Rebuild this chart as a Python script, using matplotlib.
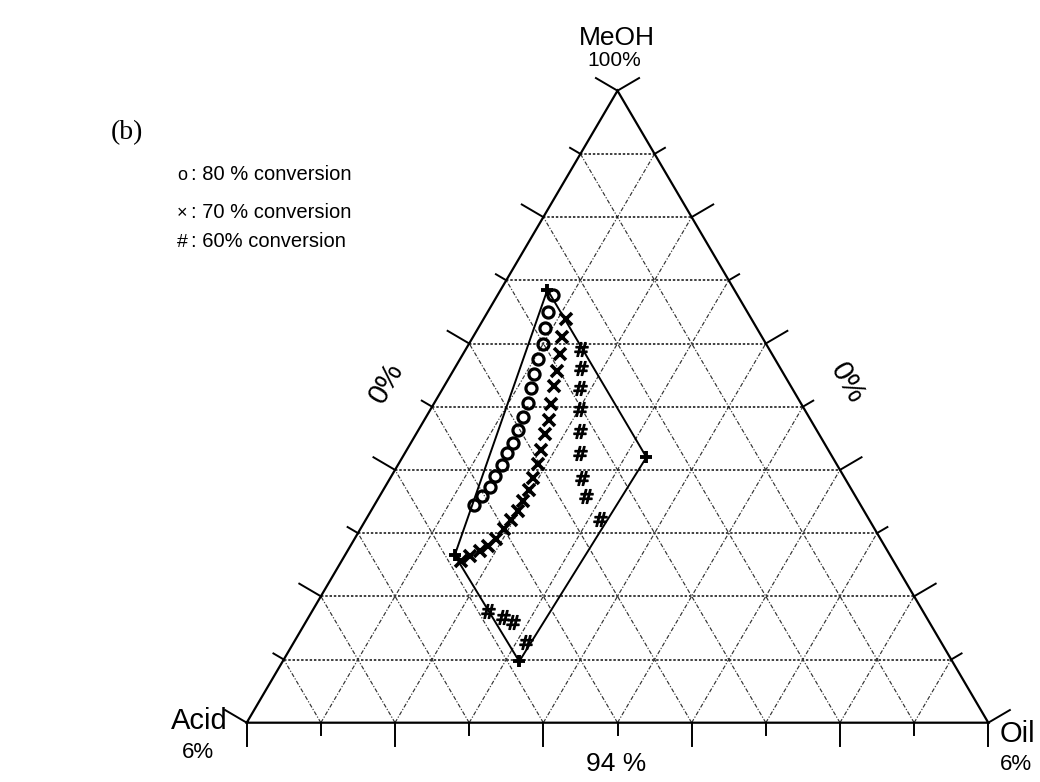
import matplotlib
matplotlib.use("Agg")
import matplotlib.pyplot as plt
import numpy as np

plt.rcParams['font.family'] = ['Liberation Sans', 'DejaVu Sans']

# compositions in % of the drawn triangle: MeOH (top) and Oil (right), Acid = rest
conv80_meoh = [67.7, 65.0, 62.5, 60.0, 57.5, 55.2, 53.0, 50.6, 48.4, 46.3, 44.2,
               42.6, 40.8, 39.0, 37.3, 35.9, 34.5]
conv80_oil = [7.5, 8.1, 9.0, 9.9, 10.5, 11.2, 11.8, 12.6, 13.0, 13.5, 13.8,
              13.8, 14.0, 14.0, 14.1, 13.8, 13.4]

conv70_meoh = [63.9, 61.0, 58.4, 55.6, 53.2, 50.4, 47.9, 45.7, 43.1, 40.9, 38.7,
               36.8, 35.1, 33.5, 32.0, 30.6, 29.1, 28.0, 27.1, 26.3, 25.6]
conv70_oil = [11.1, 12.0, 13.0, 14.0, 14.8, 15.9, 16.8, 17.4, 18.2, 18.8, 19.3,
              19.7, 19.7, 19.8, 19.6, 19.4, 19.0, 18.5, 17.9, 17.0, 16.1]

conv60_meoh = [59.2, 56.1, 52.9, 49.7, 46.2, 42.7, 38.7, 35.8, 32.3,
               17.6, 16.8, 15.9, 12.7]
conv60_oil = [15.5, 17.0, 18.5, 20.1, 21.9, 23.6, 25.9, 27.9, 31.5,
              23.7, 26.1, 28.0, 31.3]

# feasible region corners
region_meoh = [68.5, 42.0, 9.7, 26.5]
region_oil = [6.3, 32.9, 31.9, 14.8]

legend_items = ["o", "\u00d7", "#"]
legend_text = [": 80 % conversion", ": 70 % conversion", ": 60% conversion"]

W, H = 1040, 782


def tern(meoh, oil):
    m = np.asarray(meoh) / 100.0
    o = np.asarray(oil) / 100.0
    return o + m / 2.0, m


fig = plt.figure(figsize=(W / 100, H / 100), dpi=100)
# triangle spans pixels x 246.7..988.3, y 90.7..722.7
ax = fig.add_axes([246.7 / W, 1 - 722.7 / H, 741.6 / W, 632.0 / H])
ax.set_xlim(0, 1)
ax.set_ylim(0, 1)
ax.axis('off')
sx, sy = 741.6, 632.0   # pixels per data unit

# grid
for k in range(1, 10):
    t = k / 10.0
    ax.plot([t / 2, 1 - t / 2], [t, t], color='0.05', lw=1.1,
            ls=(0, (1.6, 1.2)), zorder=1)
    ax.plot([t, t + (1 - t) / 2], [0, 1 - t], color='0.2', lw=0.85,
            ls=(0, (3.5, 1.5, 1, 1.5)), zorder=1)
    ax.plot([1 - t, (1 - t) / 2], [0, 1 - t], color='0.2', lw=0.85,
            ls=(0, (3.5, 1.5, 1, 1.5)), zorder=1)

# outline
ax.plot([0, 1, 0.5, 0], [0, 0, 1, 0], color='k', lw=1.6, zorder=3,
        solid_joinstyle='miter', clip_on=False)

# ticks
nl = np.array([-0.8626, 0.5061])
nr = np.array([0.8626, 0.5061])
for k in range(11):
    t = k / 10.0
    L = 25 if k % 2 == 0 else 12
    x0, y0 = t / 2, t
    ax.plot([x0, x0 + nl[0] * L / sx], [y0, y0 + nl[1] * L / sy], color='k', lw=1.4, clip_on=False)
    x0 = 1 - t / 2
    ax.plot([x0, x0 + nr[0] * L / sx], [y0, y0 + nr[1] * L / sy], color='k', lw=1.4, clip_on=False)
    Lb = 23 if k % 2 == 0 else 12
    ax.plot([t, t], [0, -Lb / sy], color='k', lw=1.4, clip_on=False)

# region outline
rx, ry = tern(region_meoh + region_meoh[:1], region_oil + region_oil[:1])
ax.plot(rx, ry, color='k', lw=1.4, zorder=4)
ax.plot(rx[:-1], ry[:-1], ls='none', marker='+', ms=9, mew=2.8, color='k', zorder=6)

# series
x, y = tern(conv80_meoh, conv80_oil)
ax.plot(x, y, ls='none', marker='o', ms=8, mfc='none', mec='k', mew=2.3, zorder=5)
x, y = tern(conv70_meoh, conv70_oil)
ax.plot(x, y, ls='none', marker='x', ms=8.5, mec='k', mew=2.6, zorder=5)
x, y = tern(conv60_meoh, conv60_oil)
ax.plot(x, y, ls='none', marker=r'$\#$', ms=10, color='k', mew=0.9, zorder=5)


def ftxt(px, py, s, **kw):
    fig.text(px / W, 1 - py / H, s, **kw)


# corner labels
ftxt(617, 38, "MeOH", fontsize=19, ha='center', va='center')
ftxt(614, 61, "100%", fontsize=15, ha='center', va='center')
ftxt(228, 721, "Acid", fontsize=21, ha='right', va='center')
ftxt(198, 753, "6%", fontsize=16, ha='center', va='center')
ftxt(1000, 734, "Oil", fontsize=21, ha='left', va='center')
ftxt(1016, 765, "6%", fontsize=16, ha='center', va='center')
ftxt(616, 764, "94 %", fontsize=19, ha='center', va='center')
ftxt(386, 383, "0%", fontsize=21, ha='center', va='center', rotation=60,
     rotation_mode='anchor')
ftxt(847, 383, "0%", fontsize=21, ha='center', va='center', rotation=-60,
     rotation_mode='anchor')
ftxt(127, 133, "(b)", fontsize=20, ha='center', va='center',
     family=['Liberation Serif', 'DejaVu Serif'])

# legend
for i, (sym, txt) in enumerate(zip(legend_items, legend_text)):
    py = [180, 218, 247][i]
    ftxt(182, py, sym, fontsize=[13, 13, 14][i], ha='center', va='baseline')
    ftxt(191, py, txt, fontsize=14.5, ha='left', va='baseline')

fig.savefig('out.png', dpi=100, facecolor='white')
